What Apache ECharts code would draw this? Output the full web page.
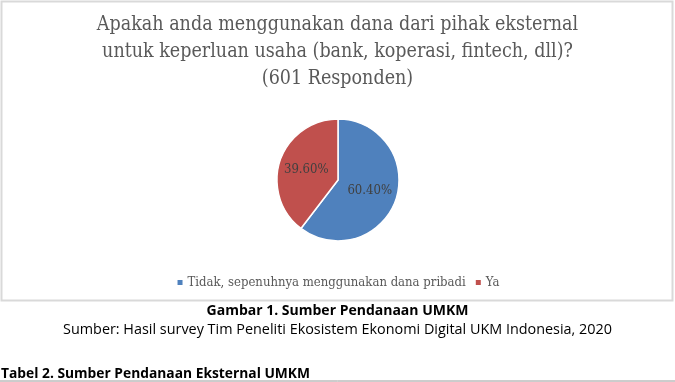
<!DOCTYPE html>
<html>
<head>
<meta charset="utf-8">
<script src="https://cdn.jsdelivr.net/npm/echarts@6/dist/echarts.min.js"></script>
<style>
html, body { margin: 0; padding: 0; background: #fff; }
#chart { width: 675px; height: 382px; }
</style>
</head>
<body>
<div id="chart"></div>
<script>
// data
var categories = ['Tidak, sepenuhnya menggunakan dana pribadi', 'Ya'];
var values = [60.40, 39.60];
var colors = ['#4F81BD', '#C0504D'];
var titleLines = 'Apakah anda menggunakan dana dari pihak eksternal\nuntuk keperluan usaha (bank, koperasi, fintech, dll)?\n(601 Responden)';
var captionTitle = 'Gambar 1. Sumber Pendanaan UMKM';
var captionSource = 'Sumber: Hasil survey Tim Peneliti Ekosistem Ekonomi Digital UKM Indonesia, 2020';
var tableTitle = 'Tabel 2. Sumber Pendanaan Eksternal UMKM';

var serif = '"DejaVu Serif Condensed", "Liberation Serif", serif';
var sans = '"Open Sans", "Noto Sans", sans-serif';

var chart = echarts.init(document.getElementById('chart'));
chart.setOption({
    animation: false,
    title: [{
        text: titleLines,
        left: 'center',
        top: 6,
        textStyle: {
            fontFamily: serif,
            fontWeight: 'normal',
            fontSize: 19.5,
            lineHeight: 27,
            color: '#595959'
        }
    }, {
        text: captionTitle,
        left: 'center',
        top: 299,
        textStyle: { fontFamily: sans, fontWeight: 'bold', fontSize: 14, color: '#000' }
    }, {
        text: captionSource,
        left: 'center',
        top: 318,
        textStyle: { fontFamily: sans, fontWeight: 'normal', fontSize: 14.4, color: '#000' }
    }, {
        text: tableTitle,
        left: -4,
        top: 362,
        textStyle: { fontFamily: sans, fontWeight: 'bold', fontSize: 13.8, color: '#000' }
    }],
    graphic: [{
        type: 'rect',
        shape: { x: 1.5, y: 1.5, width: 671, height: 299 },
        style: { fill: 'none', stroke: '#d9d9d9', lineWidth: 2 },
        z: -1
    }, {
        type: 'line',
        shape: { x1: 0, y1: 381, x2: 675, y2: 381 },
        style: { stroke: '#9a9a9a', lineWidth: 1 }
    }],
    legend: {
        data: categories,
        top: 271,
        left: 'center',
        icon: 'rect',
        itemWidth: 7,
        itemHeight: 7,
        itemGap: 8,
        textStyle: { fontFamily: serif, fontSize: 13, color: '#595959', padding: [0, 0, 0, -1] }
    },
    series: [{
        type: 'pie',
        center: [338, 180],
        radius: 61,
        startAngle: 90,
        clockwise: true,
        color: colors,
        itemStyle: { borderColor: '#fff', borderWidth: 1.5 },
        label: {
            position: 'inside',
            formatter: function (p) { return p.value.toFixed(2) + '%'; },
            fontFamily: serif,
            fontSize: 13,
            color: '#404040'
        },
        labelLine: { show: false },
        emphasis: { disabled: true },
        data: categories.map(function (c, i) {
            return { name: c, value: values[i] };
        })
    }]
});
</script>
</body>
</html>
